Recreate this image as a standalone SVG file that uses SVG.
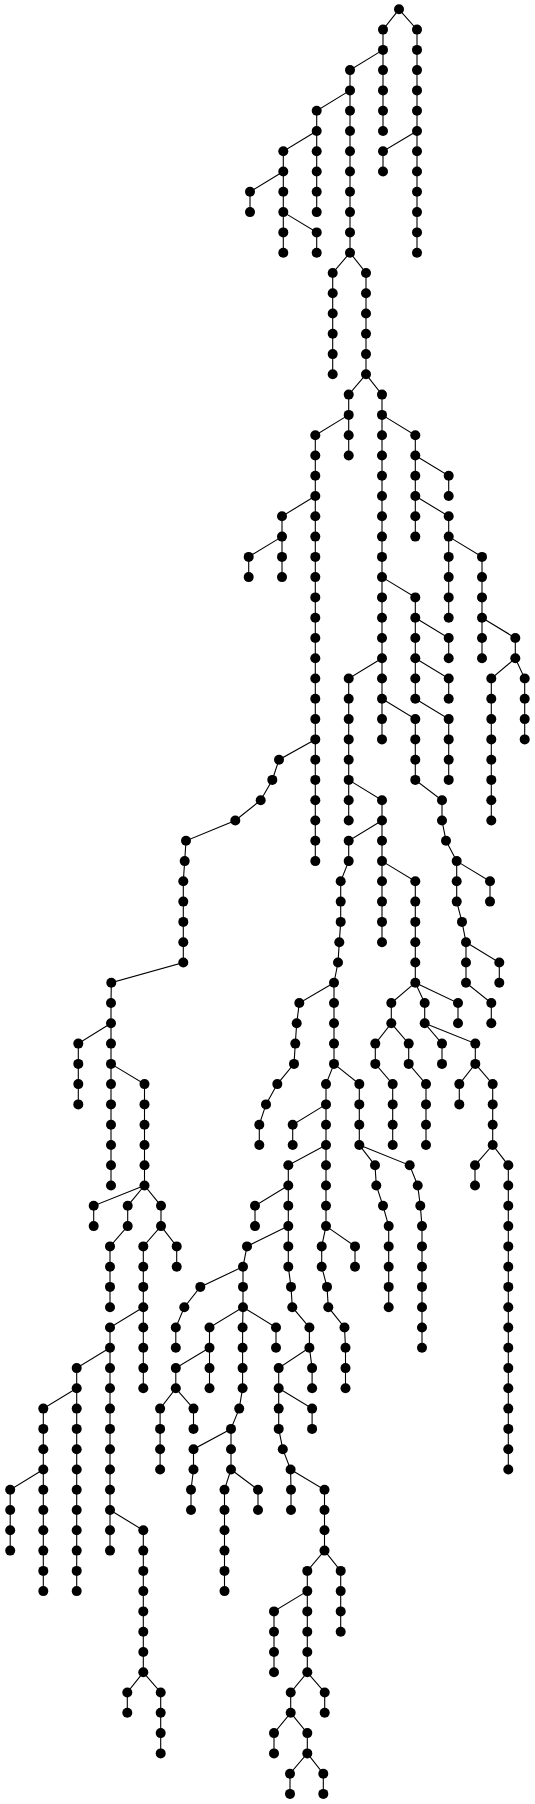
<svg xmlns="http://www.w3.org/2000/svg" width="535" height="1804" viewBox="0 0 535 1804">
<style>
.e path{stroke:#000;stroke-width:1.1;fill:none}
.n circle{fill:#000}
</style>
<rect width="535" height="1804" fill="#fff"/>
<g class="e" id="connectors">
<path d="M399 9.3 L383 29.6 V131"/>
<path d="M399 9.3 L417 29.6 V252.7"/>
<path d="M383 49.9 L350 70.1 V252.7"/>
<path d="M350 90.4 L316.7 110.7 V212.1"/>
<path d="M316.7 131 L283.3 151.3 V252.7"/>
<path d="M283.3 171.5 L250 191.8 V212.1"/>
<path d="M283.3 212.1 L316.7 232.4 V252.7"/>
<path d="M417 131 L383 151.3 V171.5"/>
<path d="M350 252.7 L332.7 273 V374.3"/>
<path d="M350 252.7 L366 273 V374.3"/>
<path d="M366 374.3 L348.7 394.6 V455.5"/>
<path d="M348.7 414.9 L315.3 435.2 V861.1"/>
<path d="M315.3 496 L282 516.3 V577.1"/>
<path d="M282 536.6 L248.7 556.9 V577.1"/>
<path d="M366 374.3 L382 394.6 V739.4"/>
<path d="M382 414.9 L415.3 435.2 V536.6"/>
<path d="M415.3 455.5 L448.7 475.7 V496"/>
<path d="M415.3 496 L448.7 516.3 V617.7"/>
<path d="M448.7 536.6 L482 556.9 V658.3"/>
<path d="M482 617.7 L515.3 638 V658.3"/>
<path d="M515.3 658.3 L491.3 678.5 V820.5"/>
<path d="M515.3 658.3 L524.7 678.5 V739.4"/>
<path d="M382 577.1 L415.3 597.4 V698.8"/>
<path d="M415.3 617.7 L448.7 638 V658.3"/>
<path d="M415.3 658.3 L448.7 678.5 V698.8"/>
<path d="M415.3 698.8 L448.7 719.1 V779.9"/>
<path d="M382 698.8 L415.3 719.1 V779.9 L442 800.2 V820.5 L446 840.8 L456.7 861.1 V901.6 L462 921.9 L466 942.2 V982.7 L491.3 1003 V1023.3"/>
<path d="M456.7 861.1 L490 881.3 V901.6"/>
<path d="M466 942.2 L499.3 962.5 V982.7"/>
<path d="M382 658.3 L348.7 678.5 V820.5"/>
<path d="M348.7 779.9 L382 800.2 V942.2"/>
<path d="M382 820.5 L348.7 840.8 V861.1 L340.7 881.3 V921.9 L339.3 942.2 L338 962.5 L334 982.7 V1063.9 L326 1084.1 V1226.1 L321.7 1246.4 V1266.7 L327 1286.9 L328.3 1307.2 L344.5 1327.5 L345.5 1347.8 V1388.3"/>
<path d="M382 861.1 L415.3 881.3 V982.7"/>
<path d="M415.3 982.7 L391.3 1003 V1023.3 L375.3 1043.6 V1063.9 L392.7 1084.1 V1145"/>
<path d="M391.3 1023.3 L408.7 1043.6 V1063.9 L426 1084.1 V1145"/>
<path d="M415.3 982.7 L424.7 1003 V1023.3 L442 1043.6 V1063.9"/>
<path d="M424.7 1023.3 L475.3 1043.6 V1063.9 L459.3 1084.1 V1104.4"/>
<path d="M475.3 1063.9 L492.7 1084.1 V1145 L508.3 1165.3 V1469.5"/>
<path d="M492.7 1145 L475 1165.3 V1185.5"/>
<path d="M415.3 982.7 L458 1003 V1023.3"/>
<path d="M334 982.7 L299.3 1003 L296.7 1023.3 L295.3 1043.6 L294 1063.9 L277.3 1084.1 L266 1104.4 L259.3 1124.7 V1145"/>
<path d="M326 1104.4 L292.7 1124.7 V1145"/>
<path d="M334 1063.9 L359.3 1084.1 V1145 L375 1165.3 L376.3 1185.5 L383 1205.8 L388.7 1226.1 V1307.2"/>
<path d="M359.3 1145 L409.7 1165.3 L417.7 1185.5 L420.3 1205.8 L422 1226.1 V1347.8"/>
<path d="M326 1145 L288.3 1165.3 V1266.7 L291 1286.9 L292.3 1307.2 L309.4 1327.5 V1347.8 L278.7 1368.1 V1428.9 L282.8 1449.2 L290.6 1469.5 L291 1489.7 V1510"/>
<path d="M288.3 1185.5 L255 1205.8 V1226.1"/>
<path d="M288.3 1226.1 L247 1246.4 L243 1266.7 L200.3 1286.9 L184.3 1307.2 L175.8 1327.5 V1347.8"/>
<path d="M243 1266.7 V1307.2 L209.5 1327.5 V1388.3"/>
<path d="M209.5 1347.8 L175.8 1368.1 V1388.3 L160.1 1408.6 V1469.5"/>
<path d="M175.8 1388.3 L193.5 1408.6 V1428.9"/>
<path d="M243 1307.2 L242.6 1327.5 V1388.3 L239.2 1408.6 L231 1428.9 V1469.5 L224.5 1489.7 V1591.1"/>
<path d="M231 1428.9 L193.5 1449.2 V1469.5 L191 1489.7 V1510"/>
<path d="M231 1469.5 L258 1489.7 V1510"/>
<path d="M243 1307.2 L276 1327.5 V1347.8"/>
<path d="M309.4 1347.8 L312.1 1368.1 V1388.3"/>
<path d="M278.7 1388.3 L312.1 1408.6 V1428.9"/>
<path d="M290.6 1469.5 L324.5 1489.7 V1550.6 L307.3 1570.9 V1672.3 L290.7 1692.5 V1712.8 L274 1733.1 V1753.4"/>
<path d="M290.7 1712.8 L307.3 1733.1 V1753.4 L290 1773.7 V1793.9"/>
<path d="M307.3 1753.4 L323.3 1773.7 V1793.9"/>
<path d="M307.3 1672.3 L324.7 1692.5 V1712.8"/>
<path d="M307.3 1591.1 L274 1611.4 V1672.3"/>
<path d="M324.5 1550.6 L340.7 1570.9 V1631.7"/>
<path d="M326 1226.1 L355 1246.4 V1266.7"/>
<path d="M315.3 739.4 L279 759.7 L272.3 779.9 L260.7 800.2 L235.3 820.5 L186 840.8 L184.7 861.1 L183.3 881.3 V962.5 L111.3 982.7 L111 1003 V1185.5"/>
<path d="M111 1023.3 L78.3 1043.6 V1104.4"/>
<path d="M111 1063.9 L144.5 1084.1 V1185.5"/>
<path d="M144.5 1185.5 L93.7 1205.8 V1226.1"/>
<path d="M144.5 1185.5 L127.7 1205.8 V1226.1 L110 1246.4 V1307.2"/>
<path d="M144.5 1185.5 L161 1205.8 V1226.1 L143.3 1246.4 V1388.3"/>
<path d="M161 1226.1 L176.7 1246.4 V1266.7"/>
<path d="M143.3 1307.2 L110 1327.5 V1550.6"/>
<path d="M110 1347.8 L76.7 1368.1 V1591.1"/>
<path d="M76.7 1388.3 L43.3 1408.6 V1591.1"/>
<path d="M43.3 1469.5 L10.2 1489.7 V1550.6"/>
<path d="M110 1510 L143.3 1530.3 V1672.3"/>
<path d="M143.3 1672.3 L127.3 1692.5 V1712.8"/>
<path d="M143.3 1672.3 L160.7 1692.5 V1753.4"/>
</g>
<g class="n" id="nodes">
<g id="n1"><circle cx="399" cy="9.3" r="5"/></g>
<g id="n2"><circle cx="383" cy="29.6" r="5"/></g>
<g id="n3"><circle cx="383" cy="49.9" r="5"/></g>
<g id="n4"><circle cx="383" cy="70.1" r="5"/></g>
<g id="n5"><circle cx="383" cy="90.4" r="5"/></g>
<g id="n6"><circle cx="383" cy="110.7" r="5"/></g>
<g id="n7"><circle cx="383" cy="131" r="5"/></g>
<g id="n8"><circle cx="417" cy="29.6" r="5"/></g>
<g id="n9"><circle cx="417" cy="49.9" r="5"/></g>
<g id="n10"><circle cx="417" cy="70.1" r="5"/></g>
<g id="n11"><circle cx="417" cy="90.4" r="5"/></g>
<g id="n12"><circle cx="417" cy="110.7" r="5"/></g>
<g id="n13"><circle cx="417" cy="131" r="5"/></g>
<g id="n14"><circle cx="417" cy="151.3" r="5"/></g>
<g id="n15"><circle cx="417" cy="171.5" r="5"/></g>
<g id="n16"><circle cx="417" cy="191.8" r="5"/></g>
<g id="n17"><circle cx="417" cy="212.1" r="5"/></g>
<g id="n18"><circle cx="417" cy="232.4" r="5"/></g>
<g id="n19"><circle cx="417" cy="252.7" r="5"/></g>
<g id="n20"><circle cx="350" cy="70.1" r="5"/></g>
<g id="n21"><circle cx="350" cy="90.4" r="5"/></g>
<g id="n22"><circle cx="350" cy="110.7" r="5"/></g>
<g id="n23"><circle cx="350" cy="131" r="5"/></g>
<g id="n24"><circle cx="350" cy="151.3" r="5"/></g>
<g id="n25"><circle cx="350" cy="171.5" r="5"/></g>
<g id="n26"><circle cx="350" cy="191.8" r="5"/></g>
<g id="n27"><circle cx="350" cy="212.1" r="5"/></g>
<g id="n28"><circle cx="350" cy="232.4" r="5"/></g>
<g id="n29"><circle cx="350" cy="252.7" r="5"/></g>
<g id="n30"><circle cx="316.7" cy="110.7" r="5"/></g>
<g id="n31"><circle cx="316.7" cy="131" r="5"/></g>
<g id="n32"><circle cx="316.7" cy="151.3" r="5"/></g>
<g id="n33"><circle cx="316.7" cy="171.5" r="5"/></g>
<g id="n34"><circle cx="316.7" cy="191.8" r="5"/></g>
<g id="n35"><circle cx="316.7" cy="212.1" r="5"/></g>
<g id="n36"><circle cx="283.3" cy="151.3" r="5"/></g>
<g id="n37"><circle cx="283.3" cy="171.5" r="5"/></g>
<g id="n38"><circle cx="283.3" cy="191.8" r="5"/></g>
<g id="n39"><circle cx="283.3" cy="212.1" r="5"/></g>
<g id="n40"><circle cx="283.3" cy="232.4" r="5"/></g>
<g id="n41"><circle cx="283.3" cy="252.7" r="5"/></g>
<g id="n42"><circle cx="250" cy="191.8" r="5"/></g>
<g id="n43"><circle cx="250" cy="212.1" r="5"/></g>
<g id="n44"><circle cx="316.7" cy="232.4" r="5"/></g>
<g id="n45"><circle cx="316.7" cy="252.7" r="5"/></g>
<g id="n46"><circle cx="383" cy="151.3" r="5"/></g>
<g id="n47"><circle cx="383" cy="171.5" r="5"/></g>
<g id="n48"><circle cx="332.7" cy="273" r="5"/></g>
<g id="n49"><circle cx="332.7" cy="293.2" r="5"/></g>
<g id="n50"><circle cx="332.7" cy="313.5" r="5"/></g>
<g id="n51"><circle cx="332.7" cy="333.8" r="5"/></g>
<g id="n52"><circle cx="332.7" cy="354.1" r="5"/></g>
<g id="n53"><circle cx="332.7" cy="374.3" r="5"/></g>
<g id="n54"><circle cx="366" cy="273" r="5"/></g>
<g id="n55"><circle cx="366" cy="293.2" r="5"/></g>
<g id="n56"><circle cx="366" cy="313.5" r="5"/></g>
<g id="n57"><circle cx="366" cy="333.8" r="5"/></g>
<g id="n58"><circle cx="366" cy="354.1" r="5"/></g>
<g id="n59"><circle cx="366" cy="374.3" r="5"/></g>
<g id="n60"><circle cx="348.7" cy="394.6" r="5"/></g>
<g id="n61"><circle cx="348.7" cy="414.9" r="5"/></g>
<g id="n62"><circle cx="348.7" cy="435.2" r="5"/></g>
<g id="n63"><circle cx="348.7" cy="455.5" r="5"/></g>
<g id="n64"><circle cx="315.3" cy="435.2" r="5"/></g>
<g id="n65"><circle cx="315.3" cy="455.5" r="5"/></g>
<g id="n66"><circle cx="315.3" cy="475.7" r="5"/></g>
<g id="n67"><circle cx="315.3" cy="496" r="5"/></g>
<g id="n68"><circle cx="315.3" cy="516.3" r="5"/></g>
<g id="n69"><circle cx="315.3" cy="536.6" r="5"/></g>
<g id="n70"><circle cx="315.3" cy="556.9" r="5"/></g>
<g id="n71"><circle cx="315.3" cy="577.1" r="5"/></g>
<g id="n72"><circle cx="315.3" cy="597.4" r="5"/></g>
<g id="n73"><circle cx="315.3" cy="617.7" r="5"/></g>
<g id="n74"><circle cx="315.3" cy="638" r="5"/></g>
<g id="n75"><circle cx="315.3" cy="658.3" r="5"/></g>
<g id="n76"><circle cx="315.3" cy="678.5" r="5"/></g>
<g id="n77"><circle cx="315.3" cy="698.8" r="5"/></g>
<g id="n78"><circle cx="315.3" cy="719.1" r="5"/></g>
<g id="n79"><circle cx="315.3" cy="739.4" r="5"/></g>
<g id="n80"><circle cx="315.3" cy="759.7" r="5"/></g>
<g id="n81"><circle cx="315.3" cy="779.9" r="5"/></g>
<g id="n82"><circle cx="315.3" cy="800.2" r="5"/></g>
<g id="n83"><circle cx="315.3" cy="820.5" r="5"/></g>
<g id="n84"><circle cx="315.3" cy="840.8" r="5"/></g>
<g id="n85"><circle cx="315.3" cy="861.1" r="5"/></g>
<g id="n86"><circle cx="282" cy="516.3" r="5"/></g>
<g id="n87"><circle cx="282" cy="536.6" r="5"/></g>
<g id="n88"><circle cx="282" cy="556.9" r="5"/></g>
<g id="n89"><circle cx="282" cy="577.1" r="5"/></g>
<g id="n90"><circle cx="248.7" cy="556.9" r="5"/></g>
<g id="n91"><circle cx="248.7" cy="577.1" r="5"/></g>
<g id="n92"><circle cx="382" cy="394.6" r="5"/></g>
<g id="n93"><circle cx="382" cy="414.9" r="5"/></g>
<g id="n94"><circle cx="382" cy="435.2" r="5"/></g>
<g id="n95"><circle cx="382" cy="455.5" r="5"/></g>
<g id="n96"><circle cx="382" cy="475.7" r="5"/></g>
<g id="n97"><circle cx="382" cy="496" r="5"/></g>
<g id="n98"><circle cx="382" cy="516.3" r="5"/></g>
<g id="n99"><circle cx="382" cy="536.6" r="5"/></g>
<g id="n100"><circle cx="382" cy="556.9" r="5"/></g>
<g id="n101"><circle cx="382" cy="577.1" r="5"/></g>
<g id="n102"><circle cx="382" cy="597.4" r="5"/></g>
<g id="n103"><circle cx="382" cy="617.7" r="5"/></g>
<g id="n104"><circle cx="382" cy="638" r="5"/></g>
<g id="n105"><circle cx="382" cy="658.3" r="5"/></g>
<g id="n106"><circle cx="382" cy="678.5" r="5"/></g>
<g id="n107"><circle cx="382" cy="698.8" r="5"/></g>
<g id="n108"><circle cx="382" cy="719.1" r="5"/></g>
<g id="n109"><circle cx="382" cy="739.4" r="5"/></g>
<g id="n110"><circle cx="415.3" cy="435.2" r="5"/></g>
<g id="n111"><circle cx="415.3" cy="455.5" r="5"/></g>
<g id="n112"><circle cx="415.3" cy="475.7" r="5"/></g>
<g id="n113"><circle cx="415.3" cy="496" r="5"/></g>
<g id="n114"><circle cx="415.3" cy="516.3" r="5"/></g>
<g id="n115"><circle cx="415.3" cy="536.6" r="5"/></g>
<g id="n116"><circle cx="448.7" cy="475.7" r="5"/></g>
<g id="n117"><circle cx="448.7" cy="496" r="5"/></g>
<g id="n118"><circle cx="448.7" cy="516.3" r="5"/></g>
<g id="n119"><circle cx="448.7" cy="536.6" r="5"/></g>
<g id="n120"><circle cx="448.7" cy="556.9" r="5"/></g>
<g id="n121"><circle cx="448.7" cy="577.1" r="5"/></g>
<g id="n122"><circle cx="448.7" cy="597.4" r="5"/></g>
<g id="n123"><circle cx="448.7" cy="617.7" r="5"/></g>
<g id="n124"><circle cx="482" cy="556.9" r="5"/></g>
<g id="n125"><circle cx="482" cy="577.1" r="5"/></g>
<g id="n126"><circle cx="482" cy="597.4" r="5"/></g>
<g id="n127"><circle cx="482" cy="617.7" r="5"/></g>
<g id="n128"><circle cx="482" cy="638" r="5"/></g>
<g id="n129"><circle cx="482" cy="658.3" r="5"/></g>
<g id="n130"><circle cx="515.3" cy="638" r="5"/></g>
<g id="n131"><circle cx="515.3" cy="658.3" r="5"/></g>
<g id="n132"><circle cx="491.3" cy="678.5" r="5"/></g>
<g id="n133"><circle cx="491.3" cy="698.8" r="5"/></g>
<g id="n134"><circle cx="491.3" cy="719.1" r="5"/></g>
<g id="n135"><circle cx="491.3" cy="739.4" r="5"/></g>
<g id="n136"><circle cx="491.3" cy="759.7" r="5"/></g>
<g id="n137"><circle cx="491.3" cy="779.9" r="5"/></g>
<g id="n138"><circle cx="491.3" cy="800.2" r="5"/></g>
<g id="n139"><circle cx="491.3" cy="820.5" r="5"/></g>
<g id="n140"><circle cx="524.7" cy="678.5" r="5"/></g>
<g id="n141"><circle cx="524.7" cy="698.8" r="5"/></g>
<g id="n142"><circle cx="524.7" cy="719.1" r="5"/></g>
<g id="n143"><circle cx="524.7" cy="739.4" r="5"/></g>
<g id="n144"><circle cx="415.3" cy="597.4" r="5"/></g>
<g id="n145"><circle cx="415.3" cy="617.7" r="5"/></g>
<g id="n146"><circle cx="415.3" cy="638" r="5"/></g>
<g id="n147"><circle cx="415.3" cy="658.3" r="5"/></g>
<g id="n148"><circle cx="415.3" cy="678.5" r="5"/></g>
<g id="n149"><circle cx="415.3" cy="698.8" r="5"/></g>
<g id="n150"><circle cx="448.7" cy="638" r="5"/></g>
<g id="n151"><circle cx="448.7" cy="658.3" r="5"/></g>
<g id="n152"><circle cx="448.7" cy="678.5" r="5"/></g>
<g id="n153"><circle cx="448.7" cy="698.8" r="5"/></g>
<g id="n154"><circle cx="448.7" cy="719.1" r="5"/></g>
<g id="n155"><circle cx="448.7" cy="739.4" r="5"/></g>
<g id="n156"><circle cx="448.7" cy="759.7" r="5"/></g>
<g id="n157"><circle cx="448.7" cy="779.9" r="5"/></g>
<g id="n158"><circle cx="415.3" cy="719.1" r="5"/></g>
<g id="n159"><circle cx="415.3" cy="739.4" r="5"/></g>
<g id="n160"><circle cx="415.3" cy="759.7" r="5"/></g>
<g id="n161"><circle cx="415.3" cy="779.9" r="5"/></g>
<g id="n162"><circle cx="442" cy="800.2" r="5"/></g>
<g id="n163"><circle cx="442" cy="820.5" r="5"/></g>
<g id="n164"><circle cx="446" cy="840.8" r="5"/></g>
<g id="n165"><circle cx="456.7" cy="861.1" r="5"/></g>
<g id="n166"><circle cx="456.7" cy="881.3" r="5"/></g>
<g id="n167"><circle cx="456.7" cy="901.6" r="5"/></g>
<g id="n168"><circle cx="462" cy="921.9" r="5"/></g>
<g id="n169"><circle cx="466" cy="942.2" r="5"/></g>
<g id="n170"><circle cx="466" cy="962.5" r="5"/></g>
<g id="n171"><circle cx="466" cy="982.7" r="5"/></g>
<g id="n172"><circle cx="491.3" cy="1003" r="5"/></g>
<g id="n173"><circle cx="491.3" cy="1023.3" r="5"/></g>
<g id="n174"><circle cx="490" cy="881.3" r="5"/></g>
<g id="n175"><circle cx="490" cy="901.6" r="5"/></g>
<g id="n176"><circle cx="499.3" cy="962.5" r="5"/></g>
<g id="n177"><circle cx="499.3" cy="982.7" r="5"/></g>
<g id="n178"><circle cx="348.7" cy="678.5" r="5"/></g>
<g id="n179"><circle cx="348.7" cy="698.8" r="5"/></g>
<g id="n180"><circle cx="348.7" cy="719.1" r="5"/></g>
<g id="n181"><circle cx="348.7" cy="739.4" r="5"/></g>
<g id="n182"><circle cx="348.7" cy="759.7" r="5"/></g>
<g id="n183"><circle cx="348.7" cy="779.9" r="5"/></g>
<g id="n184"><circle cx="348.7" cy="800.2" r="5"/></g>
<g id="n185"><circle cx="348.7" cy="820.5" r="5"/></g>
<g id="n186"><circle cx="382" cy="800.2" r="5"/></g>
<g id="n187"><circle cx="382" cy="820.5" r="5"/></g>
<g id="n188"><circle cx="382" cy="840.8" r="5"/></g>
<g id="n189"><circle cx="382" cy="861.1" r="5"/></g>
<g id="n190"><circle cx="382" cy="881.3" r="5"/></g>
<g id="n191"><circle cx="382" cy="901.6" r="5"/></g>
<g id="n192"><circle cx="382" cy="921.9" r="5"/></g>
<g id="n193"><circle cx="382" cy="942.2" r="5"/></g>
<g id="n194"><circle cx="348.7" cy="840.8" r="5"/></g>
<g id="n195"><circle cx="348.7" cy="861.1" r="5"/></g>
<g id="n196"><circle cx="340.7" cy="881.3" r="5"/></g>
<g id="n197"><circle cx="340.7" cy="901.6" r="5"/></g>
<g id="n198"><circle cx="340.7" cy="921.9" r="5"/></g>
<g id="n199"><circle cx="339.3" cy="942.2" r="5"/></g>
<g id="n200"><circle cx="338" cy="962.5" r="5"/></g>
<g id="n201"><circle cx="334" cy="982.7" r="5"/></g>
<g id="n202"><circle cx="334" cy="1003" r="5"/></g>
<g id="n203"><circle cx="334" cy="1023.3" r="5"/></g>
<g id="n204"><circle cx="334" cy="1043.6" r="5"/></g>
<g id="n205"><circle cx="334" cy="1063.9" r="5"/></g>
<g id="n206"><circle cx="326" cy="1084.1" r="5"/></g>
<g id="n207"><circle cx="326" cy="1104.4" r="5"/></g>
<g id="n208"><circle cx="326" cy="1124.7" r="5"/></g>
<g id="n209"><circle cx="326" cy="1145" r="5"/></g>
<g id="n210"><circle cx="326" cy="1165.3" r="5"/></g>
<g id="n211"><circle cx="326" cy="1185.5" r="5"/></g>
<g id="n212"><circle cx="326" cy="1205.8" r="5"/></g>
<g id="n213"><circle cx="326" cy="1226.1" r="5"/></g>
<g id="n214"><circle cx="321.7" cy="1246.4" r="5"/></g>
<g id="n215"><circle cx="321.7" cy="1266.7" r="5"/></g>
<g id="n216"><circle cx="327" cy="1286.9" r="5"/></g>
<g id="n217"><circle cx="328.3" cy="1307.2" r="5"/></g>
<g id="n218"><circle cx="344.5" cy="1327.5" r="5"/></g>
<g id="n219"><circle cx="345.5" cy="1347.8" r="5"/></g>
<g id="n220"><circle cx="345.5" cy="1368.1" r="5"/></g>
<g id="n221"><circle cx="345.5" cy="1388.3" r="5"/></g>
<g id="n222"><circle cx="415.3" cy="881.3" r="5"/></g>
<g id="n223"><circle cx="415.3" cy="901.6" r="5"/></g>
<g id="n224"><circle cx="415.3" cy="921.9" r="5"/></g>
<g id="n225"><circle cx="415.3" cy="942.2" r="5"/></g>
<g id="n226"><circle cx="415.3" cy="962.5" r="5"/></g>
<g id="n227"><circle cx="415.3" cy="982.7" r="5"/></g>
<g id="n228"><circle cx="391.3" cy="1003" r="5"/></g>
<g id="n229"><circle cx="391.3" cy="1023.3" r="5"/></g>
<g id="n230"><circle cx="375.3" cy="1043.6" r="5"/></g>
<g id="n231"><circle cx="375.3" cy="1063.9" r="5"/></g>
<g id="n232"><circle cx="392.7" cy="1084.1" r="5"/></g>
<g id="n233"><circle cx="392.7" cy="1104.4" r="5"/></g>
<g id="n234"><circle cx="392.7" cy="1124.7" r="5"/></g>
<g id="n235"><circle cx="392.7" cy="1145" r="5"/></g>
<g id="n236"><circle cx="408.7" cy="1043.6" r="5"/></g>
<g id="n237"><circle cx="408.7" cy="1063.9" r="5"/></g>
<g id="n238"><circle cx="426" cy="1084.1" r="5"/></g>
<g id="n239"><circle cx="426" cy="1104.4" r="5"/></g>
<g id="n240"><circle cx="426" cy="1124.7" r="5"/></g>
<g id="n241"><circle cx="426" cy="1145" r="5"/></g>
<g id="n242"><circle cx="424.7" cy="1003" r="5"/></g>
<g id="n243"><circle cx="424.7" cy="1023.3" r="5"/></g>
<g id="n244"><circle cx="442" cy="1043.6" r="5"/></g>
<g id="n245"><circle cx="442" cy="1063.9" r="5"/></g>
<g id="n246"><circle cx="475.3" cy="1043.6" r="5"/></g>
<g id="n247"><circle cx="475.3" cy="1063.9" r="5"/></g>
<g id="n248"><circle cx="459.3" cy="1084.1" r="5"/></g>
<g id="n249"><circle cx="459.3" cy="1104.4" r="5"/></g>
<g id="n250"><circle cx="492.7" cy="1084.1" r="5"/></g>
<g id="n251"><circle cx="492.7" cy="1104.4" r="5"/></g>
<g id="n252"><circle cx="492.7" cy="1124.7" r="5"/></g>
<g id="n253"><circle cx="492.7" cy="1145" r="5"/></g>
<g id="n254"><circle cx="508.3" cy="1165.3" r="5"/></g>
<g id="n255"><circle cx="508.3" cy="1185.5" r="5"/></g>
<g id="n256"><circle cx="508.3" cy="1205.8" r="5"/></g>
<g id="n257"><circle cx="508.3" cy="1226.1" r="5"/></g>
<g id="n258"><circle cx="508.3" cy="1246.4" r="5"/></g>
<g id="n259"><circle cx="508.3" cy="1266.7" r="5"/></g>
<g id="n260"><circle cx="508.3" cy="1286.9" r="5"/></g>
<g id="n261"><circle cx="508.3" cy="1307.2" r="5"/></g>
<g id="n262"><circle cx="508.3" cy="1327.5" r="5"/></g>
<g id="n263"><circle cx="508.3" cy="1347.8" r="5"/></g>
<g id="n264"><circle cx="508.3" cy="1368.1" r="5"/></g>
<g id="n265"><circle cx="508.3" cy="1388.3" r="5"/></g>
<g id="n266"><circle cx="508.3" cy="1408.6" r="5"/></g>
<g id="n267"><circle cx="508.3" cy="1428.9" r="5"/></g>
<g id="n268"><circle cx="508.3" cy="1449.2" r="5"/></g>
<g id="n269"><circle cx="508.3" cy="1469.5" r="5"/></g>
<g id="n270"><circle cx="475" cy="1165.3" r="5"/></g>
<g id="n271"><circle cx="475" cy="1185.5" r="5"/></g>
<g id="n272"><circle cx="458" cy="1003" r="5"/></g>
<g id="n273"><circle cx="458" cy="1023.3" r="5"/></g>
<g id="n274"><circle cx="299.3" cy="1003" r="5"/></g>
<g id="n275"><circle cx="296.7" cy="1023.3" r="5"/></g>
<g id="n276"><circle cx="295.3" cy="1043.6" r="5"/></g>
<g id="n277"><circle cx="294" cy="1063.9" r="5"/></g>
<g id="n278"><circle cx="277.3" cy="1084.1" r="5"/></g>
<g id="n279"><circle cx="266" cy="1104.4" r="5"/></g>
<g id="n280"><circle cx="259.3" cy="1124.7" r="5"/></g>
<g id="n281"><circle cx="259.3" cy="1145" r="5"/></g>
<g id="n282"><circle cx="292.7" cy="1124.7" r="5"/></g>
<g id="n283"><circle cx="292.7" cy="1145" r="5"/></g>
<g id="n284"><circle cx="359.3" cy="1084.1" r="5"/></g>
<g id="n285"><circle cx="359.3" cy="1104.4" r="5"/></g>
<g id="n286"><circle cx="359.3" cy="1124.7" r="5"/></g>
<g id="n287"><circle cx="359.3" cy="1145" r="5"/></g>
<g id="n288"><circle cx="375" cy="1165.3" r="5"/></g>
<g id="n289"><circle cx="376.3" cy="1185.5" r="5"/></g>
<g id="n290"><circle cx="383" cy="1205.8" r="5"/></g>
<g id="n291"><circle cx="388.7" cy="1226.1" r="5"/></g>
<g id="n292"><circle cx="388.7" cy="1246.4" r="5"/></g>
<g id="n293"><circle cx="388.7" cy="1266.7" r="5"/></g>
<g id="n294"><circle cx="388.7" cy="1286.9" r="5"/></g>
<g id="n295"><circle cx="388.7" cy="1307.2" r="5"/></g>
<g id="n296"><circle cx="409.7" cy="1165.3" r="5"/></g>
<g id="n297"><circle cx="417.7" cy="1185.5" r="5"/></g>
<g id="n298"><circle cx="420.3" cy="1205.8" r="5"/></g>
<g id="n299"><circle cx="422" cy="1226.1" r="5"/></g>
<g id="n300"><circle cx="422" cy="1246.4" r="5"/></g>
<g id="n301"><circle cx="422" cy="1266.7" r="5"/></g>
<g id="n302"><circle cx="422" cy="1286.9" r="5"/></g>
<g id="n303"><circle cx="422" cy="1307.2" r="5"/></g>
<g id="n304"><circle cx="422" cy="1327.5" r="5"/></g>
<g id="n305"><circle cx="422" cy="1347.8" r="5"/></g>
<g id="n306"><circle cx="288.3" cy="1165.3" r="5"/></g>
<g id="n307"><circle cx="288.3" cy="1185.5" r="5"/></g>
<g id="n308"><circle cx="288.3" cy="1205.8" r="5"/></g>
<g id="n309"><circle cx="288.3" cy="1226.1" r="5"/></g>
<g id="n310"><circle cx="288.3" cy="1246.4" r="5"/></g>
<g id="n311"><circle cx="288.3" cy="1266.7" r="5"/></g>
<g id="n312"><circle cx="291" cy="1286.9" r="5"/></g>
<g id="n313"><circle cx="292.3" cy="1307.2" r="5"/></g>
<g id="n314"><circle cx="309.4" cy="1327.5" r="5"/></g>
<g id="n315"><circle cx="309.4" cy="1347.8" r="5"/></g>
<g id="n316"><circle cx="278.7" cy="1368.1" r="5"/></g>
<g id="n317"><circle cx="278.7" cy="1388.3" r="5"/></g>
<g id="n318"><circle cx="278.7" cy="1408.6" r="5"/></g>
<g id="n319"><circle cx="278.7" cy="1428.9" r="5"/></g>
<g id="n320"><circle cx="282.8" cy="1449.2" r="5"/></g>
<g id="n321"><circle cx="290.6" cy="1469.5" r="5"/></g>
<g id="n322"><circle cx="291" cy="1489.7" r="5"/></g>
<g id="n323"><circle cx="291" cy="1510" r="5"/></g>
<g id="n324"><circle cx="255" cy="1205.8" r="5"/></g>
<g id="n325"><circle cx="255" cy="1226.1" r="5"/></g>
<g id="n326"><circle cx="247" cy="1246.4" r="5"/></g>
<g id="n327"><circle cx="243" cy="1266.7" r="5"/></g>
<g id="n328"><circle cx="200.3" cy="1286.9" r="5"/></g>
<g id="n329"><circle cx="184.3" cy="1307.2" r="5"/></g>
<g id="n330"><circle cx="175.8" cy="1327.5" r="5"/></g>
<g id="n331"><circle cx="175.8" cy="1347.8" r="5"/></g>
<g id="n332"><circle cx="243" cy="1286.9" r="5"/></g>
<g id="n333"><circle cx="243" cy="1307.2" r="5"/></g>
<g id="n334"><circle cx="209.5" cy="1327.5" r="5"/></g>
<g id="n335"><circle cx="209.5" cy="1347.8" r="5"/></g>
<g id="n336"><circle cx="209.5" cy="1368.1" r="5"/></g>
<g id="n337"><circle cx="209.5" cy="1388.3" r="5"/></g>
<g id="n338"><circle cx="175.8" cy="1368.1" r="5"/></g>
<g id="n339"><circle cx="175.8" cy="1388.3" r="5"/></g>
<g id="n340"><circle cx="160.1" cy="1408.6" r="5"/></g>
<g id="n341"><circle cx="160.1" cy="1428.9" r="5"/></g>
<g id="n342"><circle cx="160.1" cy="1449.2" r="5"/></g>
<g id="n343"><circle cx="160.1" cy="1469.5" r="5"/></g>
<g id="n344"><circle cx="193.5" cy="1408.6" r="5"/></g>
<g id="n345"><circle cx="193.5" cy="1428.9" r="5"/></g>
<g id="n346"><circle cx="242.6" cy="1327.5" r="5"/></g>
<g id="n347"><circle cx="242.6" cy="1347.8" r="5"/></g>
<g id="n348"><circle cx="242.6" cy="1368.1" r="5"/></g>
<g id="n349"><circle cx="242.6" cy="1388.3" r="5"/></g>
<g id="n350"><circle cx="239.2" cy="1408.6" r="5"/></g>
<g id="n351"><circle cx="231" cy="1428.9" r="5"/></g>
<g id="n352"><circle cx="231" cy="1449.2" r="5"/></g>
<g id="n353"><circle cx="231" cy="1469.5" r="5"/></g>
<g id="n354"><circle cx="224.5" cy="1489.7" r="5"/></g>
<g id="n355"><circle cx="224.5" cy="1510" r="5"/></g>
<g id="n356"><circle cx="224.5" cy="1530.3" r="5"/></g>
<g id="n357"><circle cx="224.5" cy="1550.6" r="5"/></g>
<g id="n358"><circle cx="224.5" cy="1570.9" r="5"/></g>
<g id="n359"><circle cx="224.5" cy="1591.1" r="5"/></g>
<g id="n360"><circle cx="193.5" cy="1449.2" r="5"/></g>
<g id="n361"><circle cx="193.5" cy="1469.5" r="5"/></g>
<g id="n362"><circle cx="191" cy="1489.7" r="5"/></g>
<g id="n363"><circle cx="191" cy="1510" r="5"/></g>
<g id="n364"><circle cx="258" cy="1489.7" r="5"/></g>
<g id="n365"><circle cx="258" cy="1510" r="5"/></g>
<g id="n366"><circle cx="276" cy="1327.5" r="5"/></g>
<g id="n367"><circle cx="276" cy="1347.8" r="5"/></g>
<g id="n368"><circle cx="312.1" cy="1368.1" r="5"/></g>
<g id="n369"><circle cx="312.1" cy="1388.3" r="5"/></g>
<g id="n370"><circle cx="312.1" cy="1408.6" r="5"/></g>
<g id="n371"><circle cx="312.1" cy="1428.9" r="5"/></g>
<g id="n372"><circle cx="324.5" cy="1489.7" r="5"/></g>
<g id="n373"><circle cx="324.5" cy="1510" r="5"/></g>
<g id="n374"><circle cx="324.5" cy="1530.3" r="5"/></g>
<g id="n375"><circle cx="324.5" cy="1550.6" r="5"/></g>
<g id="n376"><circle cx="307.3" cy="1570.9" r="5"/></g>
<g id="n377"><circle cx="307.3" cy="1591.1" r="5"/></g>
<g id="n378"><circle cx="307.3" cy="1611.4" r="5"/></g>
<g id="n379"><circle cx="307.3" cy="1631.7" r="5"/></g>
<g id="n380"><circle cx="307.3" cy="1652" r="5"/></g>
<g id="n381"><circle cx="307.3" cy="1672.3" r="5"/></g>
<g id="n382"><circle cx="290.7" cy="1692.5" r="5"/></g>
<g id="n383"><circle cx="290.7" cy="1712.8" r="5"/></g>
<g id="n384"><circle cx="274" cy="1733.1" r="5"/></g>
<g id="n385"><circle cx="274" cy="1753.4" r="5"/></g>
<g id="n386"><circle cx="307.3" cy="1733.1" r="5"/></g>
<g id="n387"><circle cx="307.3" cy="1753.4" r="5"/></g>
<g id="n388"><circle cx="290" cy="1773.7" r="5"/></g>
<g id="n389"><circle cx="290" cy="1793.9" r="5"/></g>
<g id="n390"><circle cx="323.3" cy="1773.7" r="5"/></g>
<g id="n391"><circle cx="323.3" cy="1793.9" r="5"/></g>
<g id="n392"><circle cx="324.7" cy="1692.5" r="5"/></g>
<g id="n393"><circle cx="324.7" cy="1712.8" r="5"/></g>
<g id="n394"><circle cx="274" cy="1611.4" r="5"/></g>
<g id="n395"><circle cx="274" cy="1631.7" r="5"/></g>
<g id="n396"><circle cx="274" cy="1652" r="5"/></g>
<g id="n397"><circle cx="274" cy="1672.3" r="5"/></g>
<g id="n398"><circle cx="340.7" cy="1570.9" r="5"/></g>
<g id="n399"><circle cx="340.7" cy="1591.1" r="5"/></g>
<g id="n400"><circle cx="340.7" cy="1611.4" r="5"/></g>
<g id="n401"><circle cx="340.7" cy="1631.7" r="5"/></g>
<g id="n402"><circle cx="355" cy="1246.4" r="5"/></g>
<g id="n403"><circle cx="355" cy="1266.7" r="5"/></g>
<g id="n404"><circle cx="279" cy="759.7" r="5"/></g>
<g id="n405"><circle cx="272.3" cy="779.9" r="5"/></g>
<g id="n406"><circle cx="260.7" cy="800.2" r="5"/></g>
<g id="n407"><circle cx="235.3" cy="820.5" r="5"/></g>
<g id="n408"><circle cx="186" cy="840.8" r="5"/></g>
<g id="n409"><circle cx="184.7" cy="861.1" r="5"/></g>
<g id="n410"><circle cx="183.3" cy="881.3" r="5"/></g>
<g id="n411"><circle cx="183.3" cy="901.6" r="5"/></g>
<g id="n412"><circle cx="183.3" cy="921.9" r="5"/></g>
<g id="n413"><circle cx="183.3" cy="942.2" r="5"/></g>
<g id="n414"><circle cx="183.3" cy="962.5" r="5"/></g>
<g id="n415"><circle cx="111.3" cy="982.7" r="5"/></g>
<g id="n416"><circle cx="111" cy="1003" r="5"/></g>
<g id="n417"><circle cx="111" cy="1023.3" r="5"/></g>
<g id="n418"><circle cx="111" cy="1043.6" r="5"/></g>
<g id="n419"><circle cx="111" cy="1063.9" r="5"/></g>
<g id="n420"><circle cx="111" cy="1084.1" r="5"/></g>
<g id="n421"><circle cx="111" cy="1104.4" r="5"/></g>
<g id="n422"><circle cx="111" cy="1124.7" r="5"/></g>
<g id="n423"><circle cx="111" cy="1145" r="5"/></g>
<g id="n424"><circle cx="111" cy="1165.3" r="5"/></g>
<g id="n425"><circle cx="111" cy="1185.5" r="5"/></g>
<g id="n426"><circle cx="78.3" cy="1043.6" r="5"/></g>
<g id="n427"><circle cx="78.3" cy="1063.9" r="5"/></g>
<g id="n428"><circle cx="78.3" cy="1084.1" r="5"/></g>
<g id="n429"><circle cx="78.3" cy="1104.4" r="5"/></g>
<g id="n430"><circle cx="144.5" cy="1084.1" r="5"/></g>
<g id="n431"><circle cx="144.5" cy="1104.4" r="5"/></g>
<g id="n432"><circle cx="144.5" cy="1124.7" r="5"/></g>
<g id="n433"><circle cx="144.5" cy="1145" r="5"/></g>
<g id="n434"><circle cx="144.5" cy="1165.3" r="5"/></g>
<g id="n435"><circle cx="144.5" cy="1185.5" r="5"/></g>
<g id="n436"><circle cx="93.7" cy="1205.8" r="5"/></g>
<g id="n437"><circle cx="93.7" cy="1226.1" r="5"/></g>
<g id="n438"><circle cx="127.7" cy="1205.8" r="5"/></g>
<g id="n439"><circle cx="127.7" cy="1226.1" r="5"/></g>
<g id="n440"><circle cx="110" cy="1246.4" r="5"/></g>
<g id="n441"><circle cx="110" cy="1266.7" r="5"/></g>
<g id="n442"><circle cx="110" cy="1286.9" r="5"/></g>
<g id="n443"><circle cx="110" cy="1307.2" r="5"/></g>
<g id="n444"><circle cx="161" cy="1205.8" r="5"/></g>
<g id="n445"><circle cx="161" cy="1226.1" r="5"/></g>
<g id="n446"><circle cx="143.3" cy="1246.4" r="5"/></g>
<g id="n447"><circle cx="143.3" cy="1266.7" r="5"/></g>
<g id="n448"><circle cx="143.3" cy="1286.9" r="5"/></g>
<g id="n449"><circle cx="143.3" cy="1307.2" r="5"/></g>
<g id="n450"><circle cx="143.3" cy="1327.5" r="5"/></g>
<g id="n451"><circle cx="143.3" cy="1347.8" r="5"/></g>
<g id="n452"><circle cx="143.3" cy="1368.1" r="5"/></g>
<g id="n453"><circle cx="143.3" cy="1388.3" r="5"/></g>
<g id="n454"><circle cx="176.7" cy="1246.4" r="5"/></g>
<g id="n455"><circle cx="176.7" cy="1266.7" r="5"/></g>
<g id="n456"><circle cx="110" cy="1327.5" r="5"/></g>
<g id="n457"><circle cx="110" cy="1347.8" r="5"/></g>
<g id="n458"><circle cx="110" cy="1368.1" r="5"/></g>
<g id="n459"><circle cx="110" cy="1388.3" r="5"/></g>
<g id="n460"><circle cx="110" cy="1408.6" r="5"/></g>
<g id="n461"><circle cx="110" cy="1428.9" r="5"/></g>
<g id="n462"><circle cx="110" cy="1449.2" r="5"/></g>
<g id="n463"><circle cx="110" cy="1469.5" r="5"/></g>
<g id="n464"><circle cx="110" cy="1489.7" r="5"/></g>
<g id="n465"><circle cx="110" cy="1510" r="5"/></g>
<g id="n466"><circle cx="110" cy="1530.3" r="5"/></g>
<g id="n467"><circle cx="110" cy="1550.6" r="5"/></g>
<g id="n468"><circle cx="76.7" cy="1368.1" r="5"/></g>
<g id="n469"><circle cx="76.7" cy="1388.3" r="5"/></g>
<g id="n470"><circle cx="76.7" cy="1408.6" r="5"/></g>
<g id="n471"><circle cx="76.7" cy="1428.9" r="5"/></g>
<g id="n472"><circle cx="76.7" cy="1449.2" r="5"/></g>
<g id="n473"><circle cx="76.7" cy="1469.5" r="5"/></g>
<g id="n474"><circle cx="76.7" cy="1489.7" r="5"/></g>
<g id="n475"><circle cx="76.7" cy="1510" r="5"/></g>
<g id="n476"><circle cx="76.7" cy="1530.3" r="5"/></g>
<g id="n477"><circle cx="76.7" cy="1550.6" r="5"/></g>
<g id="n478"><circle cx="76.7" cy="1570.9" r="5"/></g>
<g id="n479"><circle cx="76.7" cy="1591.1" r="5"/></g>
<g id="n480"><circle cx="43.3" cy="1408.6" r="5"/></g>
<g id="n481"><circle cx="43.3" cy="1428.9" r="5"/></g>
<g id="n482"><circle cx="43.3" cy="1449.2" r="5"/></g>
<g id="n483"><circle cx="43.3" cy="1469.5" r="5"/></g>
<g id="n484"><circle cx="43.3" cy="1489.7" r="5"/></g>
<g id="n485"><circle cx="43.3" cy="1510" r="5"/></g>
<g id="n486"><circle cx="43.3" cy="1530.3" r="5"/></g>
<g id="n487"><circle cx="43.3" cy="1550.6" r="5"/></g>
<g id="n488"><circle cx="43.3" cy="1570.9" r="5"/></g>
<g id="n489"><circle cx="43.3" cy="1591.1" r="5"/></g>
<g id="n490"><circle cx="10.2" cy="1489.7" r="5"/></g>
<g id="n491"><circle cx="10.2" cy="1510" r="5"/></g>
<g id="n492"><circle cx="10.2" cy="1530.3" r="5"/></g>
<g id="n493"><circle cx="10.2" cy="1550.6" r="5"/></g>
<g id="n494"><circle cx="143.3" cy="1530.3" r="5"/></g>
<g id="n495"><circle cx="143.3" cy="1550.6" r="5"/></g>
<g id="n496"><circle cx="143.3" cy="1570.9" r="5"/></g>
<g id="n497"><circle cx="143.3" cy="1591.1" r="5"/></g>
<g id="n498"><circle cx="143.3" cy="1611.4" r="5"/></g>
<g id="n499"><circle cx="143.3" cy="1631.7" r="5"/></g>
<g id="n500"><circle cx="143.3" cy="1652" r="5"/></g>
<g id="n501"><circle cx="143.3" cy="1672.3" r="5"/></g>
<g id="n502"><circle cx="127.3" cy="1692.5" r="5"/></g>
<g id="n503"><circle cx="127.3" cy="1712.8" r="5"/></g>
<g id="n504"><circle cx="160.7" cy="1692.5" r="5"/></g>
<g id="n505"><circle cx="160.7" cy="1712.8" r="5"/></g>
<g id="n506"><circle cx="160.7" cy="1733.1" r="5"/></g>
<g id="n507"><circle cx="160.7" cy="1753.4" r="5"/></g>
</g>
</svg>
